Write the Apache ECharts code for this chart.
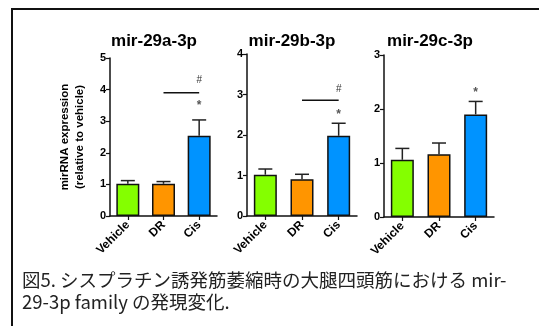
<!DOCTYPE html>
<html><head><meta charset="utf-8">
<script src="https://cdn.jsdelivr.net/npm/echarts@6/dist/echarts.min.js"></script>
<style>html,body{margin:0;padding:0;background:#fff}#c{width:539px;height:326px}</style>
</head><body><div id="c"></div>
<script>
const categories = ['Vehicle', 'DR', 'Cis'];
const panelTitles = ['mir-29a-3p', 'mir-29b-3p', 'mir-29c-3p'];
const mean29a = [1.02, 1.02, 2.54];
const errTop29a = [1.12, 1.09, 3.04];
const mean29b = [1.02, 0.91, 1.98];
const errTop29b = [1.16, 1.03, 2.29];
const mean29c = [1.06, 1.16, 1.90];
const errTop29c = [1.27, 1.37, 2.14];
const yMaxes = [5, 4, 3];
// significance bracket (DR vs Cis) height, '#' label height, '*' label height above Cis
const hashLineY = [3.9, 2.86, null];
const hashLabelY = [4.3, 3.14, null];
const starLabelY = [3.54, 2.55, 2.33];
const yAxisName = 'mirRNA expression\n(relative to vehicle)';
const captionText = '図5. シスプラチン誘発筋萎縮時の大腿四頭筋における mir-\n29-3p family の発現変化.';

const means = [mean29a, mean29b, mean29c];
const errs = [errTop29a, errTop29b, errTop29c];
const barColors = ['#84ff00', '#ff9500', '#0093ff'];

const grids = [
  {left: 110, top: 58, width: 107, height: 158},
  {left: 247, top: 54, width: 110, height: 162},
  {left: 384, top: 55, width: 110, height: 162}
];
const titleX = [154, 292, 430];

const chart = echarts.init(document.getElementById('c'));
const xAxes = [], yAxes = [], series = [];
for (let i = 0; i < 3; i++) {
  xAxes.push({
    type: 'category', gridIndex: i, data: categories,
    axisLine: {lineStyle: {color: '#111', width: 1.5}},
    axisTick: {show: true, alignWithLabel: true, length: 4, lineStyle: {color: '#111', width: 1.2}},
    axisLabel: {rotate: 45, color: '#000', fontWeight: 'bold', fontSize: 12, fontFamily: 'Liberation Sans', margin: 7, interval: 0}
  });
  yAxes.push({
    type: 'value', gridIndex: i, min: 0, max: yMaxes[i], interval: 1,
    splitLine: {show: false},
    axisLine: {show: true, lineStyle: {color: '#111', width: 1.5}},
    axisTick: {show: true, length: 4, lineStyle: {color: '#111', width: 1.2}},
    axisLabel: {color: '#000', fontWeight: 'bold', fontSize: 11, fontFamily: 'Liberation Sans', margin: 4},
    name: i === 0 ? yAxisName : '',
    nameLocation: 'middle', nameRotate: 90, nameGap: 23,
    nameTextStyle: {color: '#000', fontWeight: 'bold', fontSize: 11.5, fontFamily: 'Liberation Sans', lineHeight: 15}
  });
  series.push({
    type: 'bar', xAxisIndex: i, yAxisIndex: i, barWidth: 23,
    data: means[i].map((v, k) => ({value: v, itemStyle: {color: barColors[k]}})),
    itemStyle: {borderColor: '#111', borderWidth: 1.5},
    silent: true, z: 2
  });
  series.push({
    type: 'custom', xAxisIndex: i, yAxisIndex: i, z: 3, silent: true,
    data: means[i].map((v, k) => [k, v, errs[i][k]]),
    renderItem: function (params, api) {
      const p0 = api.coord([api.value(0), api.value(1)]);
      const p1 = api.coord([api.value(0), api.value(2)]);
      const st = {stroke: '#222', lineWidth: 1.5};
      return {type: 'group', children: [
        {type: 'line', shape: {x1: p0[0], y1: p0[1], x2: p1[0], y2: p1[1]}, style: st},
        {type: 'line', shape: {x1: p1[0] - 7, y1: p1[1], x2: p1[0] + 7, y2: p1[1]}, style: st}
      ]};
    }
  });
  const marks = [];
  if (hashLineY[i] != null) marks.push([1, 2, hashLineY[i], hashLabelY[i], '#']);
  marks.push([2, 2, null, starLabelY[i], '*']);
  series.push({
    type: 'custom', xAxisIndex: i, yAxisIndex: i, z: 4, silent: true,
    data: marks,
    renderItem: function (params, api) {
      const m = marks[params.dataIndex];
      const children = [];
      if (m[2] != null) {
        const a = api.coord([m[0], m[2]]);
        const b = api.coord([m[1], m[2]]);
        children.push({type: 'line', shape: {x1: a[0], y1: a[1], x2: b[0], y2: b[1]}, style: {stroke: '#111', lineWidth: 1.5}});
        const c = api.coord([(m[0] + m[1]) / 2, m[3]]);
        children.push({type: 'text', style: {text: m[4], x: c[0], y: c[1], align: 'center', verticalAlign: 'middle', font: '10px "Liberation Sans"', fill: '#333'}});
      } else {
        const c = api.coord([m[0], m[3]]);
        children.push({type: 'text', style: {text: m[4], x: c[0], y: c[1] + 2, align: 'center', verticalAlign: 'middle', font: 'bold 12px "Liberation Sans"', fill: '#555'}});
      }
      return {type: 'group', children: children};
    }
  });
}

const graphic = [
  {type: 'rect', shape: {x: 12, y: 9, width: 700, height: 500}, style: {fill: 'none', stroke: '#111', lineWidth: 2}, z: -1, silent: true}
];
for (let i = 0; i < 3; i++) {
  graphic.push({type: 'text', style: {text: panelTitles[i], x: titleX[i], y: 41, align: 'center', verticalAlign: 'middle', font: 'bold 17px "Liberation Sans"', fill: '#000'}});
}
graphic.push({type: 'text', style: {text: captionText, x: 22, y: 269, align: 'left', verticalAlign: 'top', font: '18.5px "Noto Sans CJK JP"', lineHeight: 22, fill: '#222'}});

chart.setOption({
  animation: false,
  grid: grids,
  xAxis: xAxes,
  yAxis: yAxes,
  series: series,
  graphic: graphic
});
</script></body></html>
